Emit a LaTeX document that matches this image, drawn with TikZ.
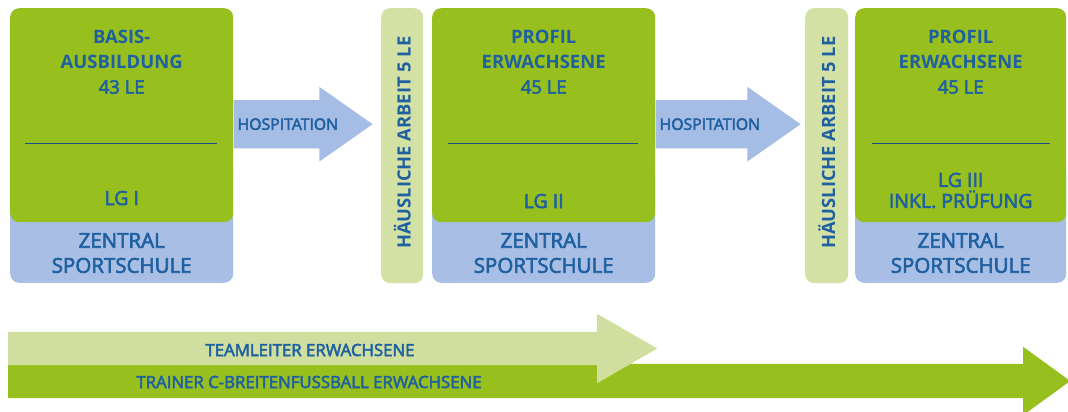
\documentclass[tikz,border=0pt]{standalone}
\usepackage{fontspec}
\setmainfont{Open Sans}
\newfontfamily\medfont{Open Sans}[FakeBold=3]
\usepackage{tikz}
\definecolor{dfbGreen}{RGB}{151,191,30}
\definecolor{dfbBlue}{RGB}{168,190,228}
\definecolor{dfbPale}{RGB}{212,225,165}
\definecolor{dfbLight}{RGB}{208,223,160}
\definecolor{dfbArrow}{RGB}{165,189,229}
\definecolor{dfbText}{RGB}{30,96,160}
\definecolor{dfbLine}{RGB}{31,78,140}
\usetikzlibrary{shapes, arrows, backgrounds, positioning, fit}
\tikzstyle{module} = [fill=dfbGreen, rectangle, rounded corners=9pt, minimum width=223pt, minimum height=214pt, inner sep=0pt]
\tikzstyle{base} = [fill=dfbBlue, rectangle, rounded corners=9pt, minimum width=223pt, minimum height=120pt, inner sep=0pt]
\tikzstyle{homework} = [fill=dfbPale, rectangle, rounded corners=9pt, minimum width=42pt, minimum height=275pt, inner sep=0pt]
\tikzstyle{title} = [text=dfbText, align=center, inner sep=0pt, font=\bfseries\fontsize{18.5}{25}\selectfont]
\tikzstyle{group} = [text=dfbText, align=center, inner sep=0pt, font=\medfont\fontsize{19.5}{21}\selectfont]
\tikzstyle{place} = [text=dfbText, align=center, inner sep=0pt, font=\medfont\fontsize{20.5}{25}\selectfont]
\tikzstyle{hwtext} = [text=dfbText, inner sep=0pt, rotate=90, font=\bfseries\fontsize{18.3}{20}\selectfont]
\tikzstyle{hosparrow} = [single arrow, fill=dfbArrow, inner xsep=0pt, inner ysep=24pt, single arrow head extend=13pt, single arrow tip angle=70, anchor=tail]
\tikzstyle{arrowtext} = [text=dfbText, inner sep=0pt, font=\medfont\fontsize{15.8}{18}\selectfont]
\tikzstyle{bartext} = [text=dfbText, inner sep=0pt, font=\medfont\fontsize{16.8}{18}\selectfont]
\tikzstyle{divider} = [draw=dfbLine, line width=1pt]

\begin{document}
\begin{tikzpicture}[x=1pt, y=-1pt]
        \useasboundingbox (0,0) rectangle (1068,412);
        % We start by placing the three modules and the home work stripes
        \node [module, anchor=north west] (mod1) at (10,8) {};
        \node [homework, anchor=north west] (hw1) at (381,8) {};
        \node [module, anchor=north west] (mod2) at (432,8) {};
        \node [homework, anchor=north west, minimum width=43pt] (hw2) at (805,8) {};
        \node [module, anchor=north west, minimum width=211pt] (mod3) at (855,8) {};

        \begin{scope}[on background layer]
            \fill [white] (0,0) rectangle (1068,412);
            \node [base, anchor=south west] (base1) at (10,283) {};
            \node [base, anchor=south west] (base2) at (432,283) {};
            \node [base, anchor=south west, minimum width=211pt] (base3) at (855,283) {};
        \end{scope}

        % Texts of the modules
        \node [title, below=22pt of mod1.north] (ttl1) {BASIS-\\AUSBILDUNG\\{\medfont\mdseries 43 LE}};
        \node [title, below=22pt of mod2.north] (ttl2) {PROFIL\\ERWACHSENE\\{\medfont\mdseries 45 LE}};
        \node [title, below=22pt of mod3.north] (ttl3) {PROFIL\\ERWACHSENE\\{\medfont\mdseries 45 LE}};
        \node [group, above=17pt of mod1.south] (lg1) {LG I};
        \node [group, above=14pt of mod2.south] (lg2) {LG II};
        \node [group, above=14pt of mod3.south] (lg3) {LG III\\INKL. PRÜFUNG};
        \node [place, yshift=30pt] (zs1) at (base1.south) {ZENTRAL\\SPORTSCHULE};
        \node [place, yshift=30pt] (zs2) at (base2.south) {ZENTRAL\\SPORTSCHULE};
        \node [place, yshift=30pt] (zs3) at (base3.south) {ZENTRAL\\SPORTSCHULE};
        \node [hwtext] (hw1txt) at ([yshift=3pt]hw1.center) {HÄUSLICHE ARBEIT 5 LE};
        \node [hwtext] (hw2txt) at ([yshift=3pt]hw2.center) {HÄUSLICHE ARBEIT 5 LE};

        \draw [divider] ([xshift=15pt, yshift=-28pt]mod1.west) -- ([xshift=-16pt, yshift=-28pt]mod1.east);
        \draw [divider] ([xshift=16pt, yshift=-28pt]mod2.west) -- ([xshift=-17pt, yshift=-28pt]mod2.east);
        \draw [divider] ([xshift=17pt, yshift=-28pt]mod3.west) -- ([xshift=-16pt, yshift=-28pt]mod3.east);

        % Hospitation arrows between the modules
        \node [hosparrow, minimum height=139pt] (hosp1) at ([yshift=-9pt]mod1.east) {};
        \node [hosparrow, minimum height=145pt] (hosp2) at ([yshift=-9pt]mod2.east) {};
        \node [arrowtext, right=4pt of hosp1.tail] (hosp1txt) {HOSPITATION};
        \node [arrowtext, right=4pt of hosp2.tail] (hosp2txt) {HOSPITATION};

        % Qualification bars
        \node [single arrow, fill=dfbGreen, inner xsep=0pt, inner ysep=17pt, single arrow head extend=17pt, single arrow tip angle=72, minimum height=1062pt, anchor=tail] (trainer) at (8,381) {};
        \node [single arrow, fill=dfbLight, inner xsep=0pt, inner ysep=16.5pt, single arrow head extend=18pt, single arrow tip angle=60, minimum height=649pt, anchor=tail] (teamleiter) at (8,348.5) {};
        \node [bartext] (teamleitertxt) at (310,350) {TEAMLEITER ERWACHSENE};
        \node [bartext] (trainertxt) at (309,382) {TRAINER C-BREITENFUSSBALL ERWACHSENE};
    \end{tikzpicture}
\end{document}
